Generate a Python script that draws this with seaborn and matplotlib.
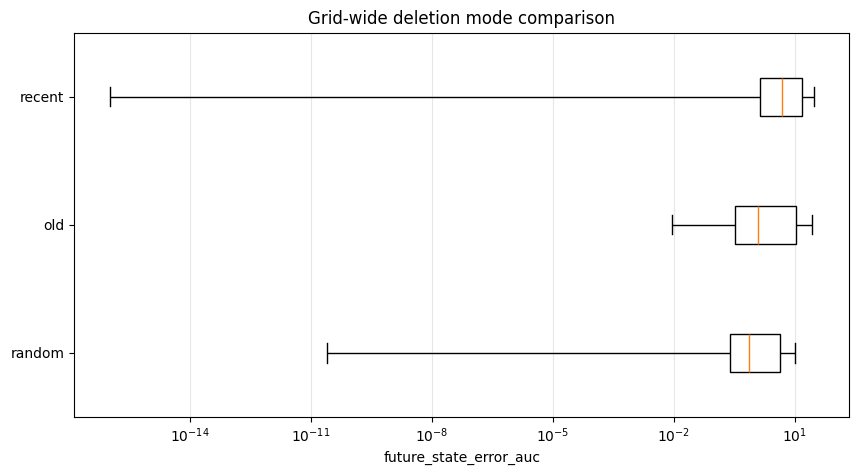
import matplotlib
matplotlib.use("Agg")
import matplotlib.pyplot as plt
import pandas as pd
import seaborn as sns

# Deletion modes, top to bottom
modes = ["recent", "old", "random"]

# Five-number summaries: whisker low, Q1, median, Q3, whisker high
recent_vals = [1.0e-16, 1.36, 5.0, 14.9, 30.0]
old_vals = [0.0089, 0.325, 1.21, 10.6, 26.4]
random_vals = [2.45e-11, 0.244, 0.724, 4.25, 10.0]

df = pd.DataFrame({
    "mode": [m for m in modes for _ in range(5)],
    "future_state_error_auc": recent_vals + old_vals + random_vals,
})

fig, ax = plt.subplots(figsize=(8.58, 4.75), dpi=100)
fig.subplots_adjust(left=0.0866, right=0.9895, top=0.9312, bottom=0.1221)

sns.boxplot(
    data=df, x="future_state_error_auc", y="mode", order=modes,
    log_scale=True, whis=(0, 100), width=0.3, color="white",
    linecolor="black", linewidth=1.0, saturation=1,
    medianprops={"color": "#ff7f0e", "linewidth": 1.0},
    ax=ax,
)

ax.grid(axis="x", alpha=0.3)
ax.set_axisbelow(True)
ax.set_ylabel("")
ax.set_xlabel("future_state_error_auc")
ax.set_title("Grid-wide deletion mode comparison")

fig.savefig("out.png", dpi=100)
